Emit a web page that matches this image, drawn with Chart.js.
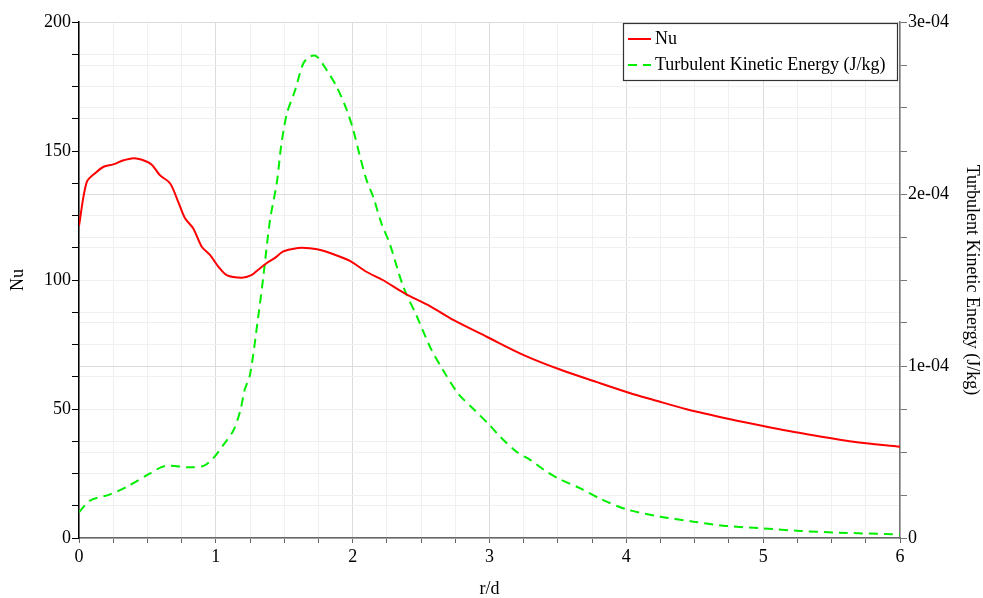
<!DOCTYPE html>
<html>
<head>
<meta charset="utf-8">
<script src="https://cdn.jsdelivr.net/npm/chart.js@4/dist/chart.umd.min.js"></script>
<style>
html,body{margin:0;padding:0;background:#fff;}
#wrap{width:983px;height:598px;position:relative;}
</style>
</head>
<body>
<div id="wrap"><canvas id="c" width="983" height="598"></canvas></div>
<script>
// ---- data ----
const nuR = [0, 0.056, 0.12, 0.18, 0.25, 0.32, 0.40, 0.46, 0.53, 0.59, 0.665, 0.72, 0.775, 0.835, 0.897, 0.957, 1.018, 1.079, 1.19, 1.26, 1.31, 1.37, 1.43, 1.49, 1.56, 1.63, 1.74, 1.86, 1.98, 2.10, 2.22, 2.38, 2.565, 2.735, 2.98, 3.25, 3.515, 3.78, 4.03, 4.2, 4.44, 4.76, 5.0, 5.32, 5.66, 6.0];
const nuVal = [121, 137.9, 141.5, 143.9, 144.8, 146.3, 147.2, 146.6, 144.8, 140.7, 137.5, 131, 123.9, 120, 112.9, 109.7, 105.2, 101.9, 100.9, 101.9, 104, 106.5, 108.5, 111, 112, 112.5, 111.9, 110, 107.4, 103.2, 100, 94.8, 89.9, 84.5, 78, 70.9, 65.3, 60.5, 56.1, 53.5, 49.9, 46, 43.4, 40.2, 37.3, 35.4];
const tkeR = [0, 0.08, 0.227, 0.35, 0.52, 0.63, 0.80, 0.91, 0.98, 1.055, 1.13, 1.18, 1.21, 1.25, 1.31, 1.347, 1.396, 1.445, 1.48, 1.52, 1.58, 1.64, 1.69, 1.737, 1.81, 1.883, 1.957, 2.005, 2.054, 2.10, 2.15, 2.21, 2.27, 2.37, 2.47, 2.565, 2.66, 2.77, 2.89, 3.0, 3.08, 3.2, 3.3, 3.4, 3.51, 3.66, 3.81, 4.0, 4.25, 4.49, 4.73, 5.0, 5.27, 5.56, 5.95, 6.0];
const tkeVal = [0.150e-4, 0.217e-4, 0.254e-4, 0.298e-4, 0.376e-4, 0.419e-4, 0.411e-4, 0.419e-4, 0.463e-4, 0.541e-4, 0.628e-4, 0.744e-4, 0.860e-4, 0.950e-4, 1.287e-4, 1.519e-4, 1.849e-4, 2.062e-4, 2.295e-4, 2.469e-4, 2.605e-4, 2.760e-4, 2.800e-4, 2.800e-4, 2.720e-4, 2.624e-4, 2.488e-4, 2.370e-4, 2.217e-4, 2.085e-4, 1.984e-4, 1.830e-4, 1.713e-4, 1.461e-4, 1.287e-4, 1.112e-4, 0.977e-4, 0.841e-4, 0.744e-4, 0.657e-4, 0.587e-4, 0.500e-4, 0.453e-4, 0.395e-4, 0.343e-4, 0.290e-4, 0.228e-4, 0.167e-4, 0.124e-4, 0.095e-4, 0.070e-4, 0.056e-4, 0.041e-4, 0.031e-4, 0.022e-4, 0.021e-4];
const xTickLabels = ['0', '1', '2', '3', '4', '5', '6'];
const yLeftTickLabels = ['0', '50', '100', '150', '200'];
const yRightTickLabels = ['0', '1e-04', '2e-04', '3e-04'];
const seriesNames = ['Nu', 'Turbulent Kinetic Energy (J/kg)'];
const axisTitles = {x: 'r/d', yLeft: 'Nu', yRight: 'Turbulent Kinetic Energy (J/kg)'};

const FONT = 'Liberation Serif, Times New Roman, serif';
const near = (v, step) => Math.abs(v / step - Math.round(v / step)) < 1e-6;

const legendPlugin = {
  id: 'boxLegend',
  afterDraw(chart) {
    const ctx = chart.ctx;
    const L = 623, T = 23, W = 274, H = 57;
    ctx.save();
    ctx.fillStyle = '#fff';
    ctx.fillRect(L, T, W, H);
    ctx.strokeStyle = '#333';
    ctx.lineWidth = 1.2;
    ctx.strokeRect(L + 0.5, T + 0.5, W, H);
    ctx.font = '18px ' + FONT;
    ctx.textBaseline = 'alphabetic';
    ctx.fillStyle = '#000';
    const rows = [39, 65];
    chart.data.datasets.forEach((ds, i) => {
      const y = rows[i];
      ctx.beginPath();
      ctx.strokeStyle = ds.borderColor;
      ctx.lineWidth = ds.borderWidth;
      ctx.setLineDash(ds.borderDash || []);
      ctx.moveTo(628, y);
      ctx.lineTo(651, y);
      ctx.stroke();
      ctx.setLineDash([]);
      ctx.fillText(ds.label, 655, y + 5);
    });
    ctx.restore();
  }
};

const gridColor = (step) => (c) => (c.tick && near(c.tick.value, step)) ? '#dcdcdc' : '#f0f0f0';

new Chart(document.getElementById('c'), {
  type: 'line',
  data: {
    datasets: [
      {
        label: seriesNames[0],
        data: nuR.map((r, i) => ({x: r, y: nuVal[i]})),
        borderColor: '#ff0000',
        borderWidth: 2,
        pointRadius: 0,
        tension: 0.3,
        yAxisID: 'y'
      },
      {
        label: seriesNames[1],
        data: tkeR.map((r, i) => ({x: r, y: tkeVal[i]})),
        borderColor: '#00ee00',
        borderWidth: 2,
        borderDash: [9, 6],
        pointRadius: 0,
        tension: 0.3,
        yAxisID: 'y2'
      }
    ]
  },
  options: {
    responsive: false,
    animation: false,
    layout: {padding: {top: 22, left: 0, right: 0, bottom: 0}},
    plugins: {legend: {display: false}, tooltip: {enabled: false}},
    scales: {
      x: {
        type: 'linear', min: 0, max: 6,
        afterFit: (s) => { s.height = 60; },
        ticks: {
          stepSize: 0.25, autoSkip: false, maxRotation: 0, padding: 3,
          color: '#000', font: {family: FONT, size: 18},
          callback: (v) => near(v, 1) ? xTickLabels[Math.round(v)] : ''
        },
        grid: {color: gridColor(1), tickColor: '#666', tickLength: 5, lineWidth: 1},
        border: {color: '#666', width: 1.5},
        title: {display: true, text: axisTitles.x, color: '#000', font: {family: FONT, size: 18, lineHeight: 1.0}, padding: {top: 0, bottom: 0}}
      },
      y: {
        type: 'linear', position: 'left', min: 0, max: 200,
        afterFit: (s) => { s.width = 79; },
        ticks: {
          stepSize: 12.5, autoSkip: false, padding: 1,
          color: '#000', font: {family: FONT, size: 18},
          callback: (v) => near(v, 50) ? yLeftTickLabels[Math.round(v / 50)] : ''
        },
        grid: {color: gridColor(50), tickColor: '#000', tickLength: 7},
        border: {color: '#000', width: 1.5},
        title: {display: true, text: axisTitles.yLeft, color: '#000', font: {family: FONT, size: 18}, padding: {top: 7, bottom: 0}}
      },
      y2: {
        type: 'linear', position: 'right', min: 0, max: 3e-4,
        afterFit: (s) => { s.width = 83; },
        ticks: {
          stepSize: 0.25e-4, autoSkip: false, padding: 1,
          color: '#000', font: {family: FONT, size: 18},
          callback: (v) => near(v, 1e-4) ? yRightTickLabels[Math.round(v / 1e-4)] : ''
        },
        grid: {color: gridColor(1e-4), tickColor: '#777', tickLength: 7},
        border: {color: '#777', width: 1.5},
        title: {display: true, text: axisTitles.yRight, color: '#000', font: {family: FONT, size: 18}, padding: {top: 0, bottom: 0}}
      }
    }
  },
  plugins: [legendPlugin]
});
</script>
</body>
</html>
